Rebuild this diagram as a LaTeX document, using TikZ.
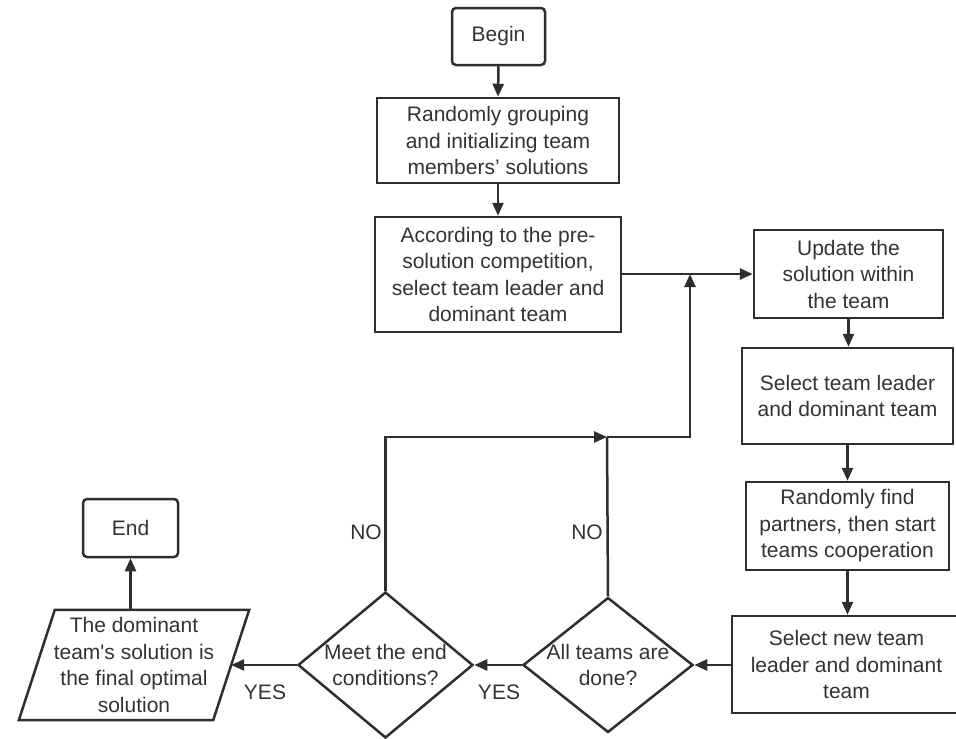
\documentclass[tikz,border=0pt]{standalone}
\usepackage{fontspec}
\setmainfont{Liberation Sans}
\newfontfamily\rawfont{Liberation Sans}
\usetikzlibrary{arrows.meta,shapes.geometric,calc}
\definecolor{ln}{HTML}{2E2E2E}
\definecolor{tx}{HTML}{333333}
\tikzset{
  base/.style={font=\fontsize{21}{26.5}\selectfont, text=tx, align=center, inner sep=0pt},
  box/.style={base, draw=ln, line width=2.5pt, rectangle},
  term/.style={box, rounded corners=4pt},
  dia/.style={base, draw=ln, line width=2.5pt, diamond},
  lab/.style={base},
  line/.style={draw=ln, line width=2.5pt},
  arr/.style={line, -{Triangle[length=13pt,width=11pt]}},
}
\begin{document}
\begin{tikzpicture}[x=1pt,y=-1pt]
\useasboundingbox (0,0) rectangle (956,739);
% nodes
\node[term, minimum width=93pt, minimum height=57pt] (begin) at (498.5,36.5) {Begin};
\node[box, minimum width=242pt, minimum height=85pt] (init) at (498,140.5) {Randomly grouping\\and initializing team\\members' solutions};
\node[box, minimum width=246pt, minimum height=115pt] (compet) at (498,274.5) {According to the pre-\\solution competition,\\select team leader and\\dominant team};
\node[box, minimum width=189pt, minimum height=88pt] (update) at (848.5,274) {Update the\\solution within\\the team};
\node[box, minimum width=211pt, minimum height=96pt] (sel1) at (847.5,396) {Select team leader\\and dominant team};
\node[box, minimum width=203pt, minimum height=88pt] (partners) at (847.5,526) {Randomly find\\partners, then start\\teams cooperation};
\node[box, minimum width=229pt, minimum height=97pt] (newteam) at (846.5,664.5) {Select new team\\leader and dominant\\team};
\node[dia, minimum width=170pt, minimum height=135pt, label={[lab]center:All teams are\\done?}] (alldone) at (608,665) {};
\node[dia, minimum width=175pt, minimum height=146pt, label={[lab]center:Meet the end\\conditions?}] (meet) at (385.5,665) {};
\node[lab, minimum width=194pt, minimum height=110pt] (final) at (134,665) {The dominant\\team{\rawfont'}s solution is\\the final optimal\\solution};
\draw[line] ($(final.north west)+(18,0)$) -- ($(final.north east)+(18,0)$) -- ($(final.south east)+(-18,0)$) -- ($(final.south west)+(-18,0)$) -- cycle;
\node[term, minimum width=95pt, minimum height=58pt] (end) at (130.5,528) {End};
% labels
\node[lab] (no1) at (366,532) {NO};
\node[lab] (no2) at (587,532) {NO};
\node[lab] (yes1) at (265,692) {YES};
\node[lab] (yes2) at (499,692) {YES};
% junctions
\coordinate (j1) at (690,274);
\coordinate (j2) at (607,437);
% connectors
\draw[arr] (begin.south) -- (init.north);
\draw[arr] (init.south) -- (compet.north);
\draw[arr] (compet.east |- update.west) -- (update.west);
\draw[arr] (update.south) -- (update.south |- sel1.north);
\draw[arr] (sel1.south) -- (sel1.south |- partners.north);
\draw[arr] (partners.south) -- (partners.south |- newteam.north);
\draw[arr] (newteam.west |- alldone.east) -- (alldone.east);
\draw[arr] (alldone.west) -- (meet.east);
\draw[arr] (meet.west) -- (final.east);
\draw[arr] (end.south |- final.north) -- (end.south);
\draw[arr] (meet.north) -- (meet.north |- j2) -- (j2);
\draw[line] (alldone.north) -- (j2);
\draw[arr] (j2) -- (j2 -| j1) -- (j1);
\end{tikzpicture}
\end{document}
